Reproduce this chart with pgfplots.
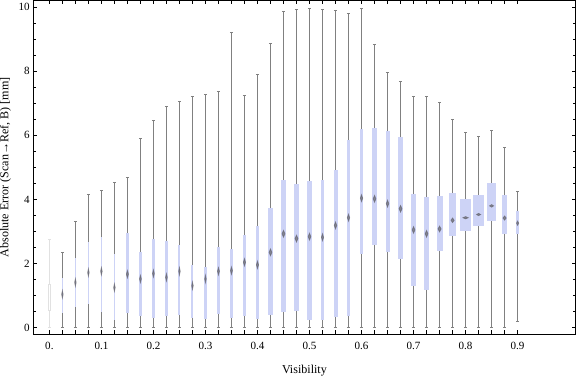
\documentclass[border=0pt]{standalone}
\usepackage{fontspec}
\setmainfont{Liberation Serif}
\usepackage{pgfplots}
\pgfplotsset{compat=1.18}
\usepgfplotslibrary{statistics}
\definecolor{boxfill}{RGB}{205,211,246}
\definecolor{whisk}{RGB}{128,128,128}
\definecolor{medc}{RGB}{105,105,115}
\definecolor{faint}{RGB}{225,225,225}
\pgfkeys{/pgfplots/boxplot/medh/.initial=0.1, /pgfplots/boxplot/medw/.initial=0.35}
% pos, lower whisker, lower quartile, median, upper quartile, upper whisker, box width, median half-height (data), median half-width (fraction of box)
\newcommand{\bw}[9]{\addplot[draw=whisk, line width=0.8pt, boxplot/medh=#8, boxplot/medw=#9,
  boxplot prepared={draw position=#1, lower whisker=#2, lower quartile=#3, median=#4,
  upper quartile=#5, upper whisker=#6, box extend=#7, whisker extend=0.006}] coordinates {};}
\begin{document}
\begin{tikzpicture}
\begin{axis}[
  scale only axis, width=539.7pt, height=332.4pt,
  xmin=-0.031, xmax=1.0115, ymin=-0.21, ymax=10.21,
  boxplot/draw direction=y,
  xtick={0,0.025,0.05,0.075,0.1,0.125,0.15,0.175,0.2,0.225,0.25,0.275,0.3,0.325,0.35,0.375,0.4,0.425,0.45,0.475,0.5,0.525,0.55,0.575,0.6,0.625,0.65,0.675,0.7,0.725,0.75,0.775,0.8,0.825,0.85,0.875,0.9},
  xticklabels={0.,,,,0.1,,,,0.2,,,,0.3,,,,0.4,,,,0.5,,,,0.6,,,,0.7,,,,0.8,,,,0.9},
  ytick={0,2,4,6,8,10}, minor y tick num=3,
  tick align=inside,
  major tick length=4pt, minor tick length=2.7pt,
  tick style={black, line width=0.6pt},
  axis line style={line width=0.8pt},
  every tick label/.append style={font=\fontsize{11}{13}\selectfont},
  /pgf/number format/assume math mode=true,
  xticklabel style={yshift=-4.6pt},
  xlabel={Visibility},
  ylabel={Absolute Error (Scan→Ref, B) [mm]},
  label style={font=\fontsize{12}{14}\selectfont},
  xlabel style={inner sep=0pt, at={(axis description cs:0.5,-0.092)}, anchor=north},
  ylabel style={inner sep=0pt, at={(axis description cs:-0.0617,0.5)}, anchor=north},
  boxplot/every box/.style={draw=none, fill=boxfill},
  boxplot/every whisker/.style={draw=whisk, line width=0.8pt},
  boxplot/draw/median/.code={%
    \pgfmathsetmacro\mtop{\pgfplotsboxplotvalue{median}+\pgfkeysvalueof{/pgfplots/boxplot/medh}}%
    \pgfmathsetmacro\mbot{\pgfplotsboxplotvalue{median}-\pgfkeysvalueof{/pgfplots/boxplot/medh}}%
    \pgfmathsetmacro\mlo{0.5-\pgfkeysvalueof{/pgfplots/boxplot/medw}}%
    \pgfmathsetmacro\mhi{0.5+\pgfkeysvalueof{/pgfplots/boxplot/medw}}%
    \fill[medc, opacity=0.75] (boxplot box cs:\mtop,0.5) -- (boxplot box cs:\pgfplotsboxplotvalue{median},\mhi)
      -- (boxplot box cs:\mbot,0.5) -- (boxplot box cs:\pgfplotsboxplotvalue{median},\mlo) -- cycle;},
]
% faint first box
\addplot[draw=faint, line width=0.8pt, boxplot/medh=0, boxplot/medw=0,
  boxplot/every box/.style={draw=faint, fill=none, line width=0.4pt},
  boxplot/every whisker/.style={draw=faint, line width=0.8pt},
  boxplot prepared={draw position=0, lower whisker=0, lower quartile=0.53, median=0.95,
  upper quartile=1.37, upper whisker=2.74, box extend=0.004, whisker extend=0.006}] coordinates {};
\bw{0.025}{0}{0.47}{1.04}{1.54}{2.35}{0.0033}{0.11}{0.4}
\bw{0.05}{0}{0.66}{1.41}{2.16}{3.32}{0.0033}{0.11}{0.4}
\bw{0.075}{0}{0.75}{1.72}{2.66}{4.17}{0.0033}{0.11}{0.4}
\bw{0.1}{0}{0.50}{1.76}{2.82}{4.29}{0.0035}{0.11}{0.4}
\bw{0.125}{0}{0.25}{1.25}{2.29}{4.52}{0.0035}{0.11}{0.4}
\bw{0.15}{0}{0.45}{1.67}{2.94}{4.70}{0.0055}{0.11}{0.35}
\bw{0.175}{0}{0.36}{1.52}{2.36}{5.92}{0.0048}{0.11}{0.35}
\bw{0.2}{0}{0.29}{1.69}{2.76}{6.46}{0.0048}{0.11}{0.35}
\bw{0.225}{0}{0.36}{1.57}{2.70}{6.90}{0.0045}{0.11}{0.35}
\bw{0.25}{0}{0.39}{1.76}{2.58}{7.05}{0.0040}{0.11}{0.35}
\bw{0.275}{0}{0.29}{1.31}{1.94}{7.21}{0.0040}{0.11}{0.35}
\bw{0.3}{0}{0.26}{1.52}{1.88}{7.29}{0.0040}{0.11}{0.35}
\bw{0.325}{0}{0.42}{1.76}{2.51}{7.36}{0.0052}{0.11}{0.35}
\bw{0.35}{0}{0.29}{1.78}{2.45}{9.22}{0.0052}{0.11}{0.35}
\bw{0.375}{0}{0.36}{2.04}{2.88}{7.26}{0.0058}{0.11}{0.35}
\bw{0.4}{0}{0.27}{1.96}{3.18}{7.89}{0.0058}{0.11}{0.35}
\bw{0.425}{0}{0.39}{2.35}{3.72}{8.86}{0.0087}{0.103}{0.3}
\bw{0.45}{0}{0.48}{2.93}{4.60}{9.87}{0.0091}{0.103}{0.3}
\bw{0.475}{0}{0.52}{2.78}{4.47}{9.92}{0.0091}{0.103}{0.3}
\bw{0.5}{0}{0.23}{2.84}{4.58}{9.96}{0.0083}{0.103}{0.3}
\bw{0.525}{0}{0.25}{2.82}{4.60}{9.92}{0.0058}{0.103}{0.35}
\bw{0.55}{0}{0.34}{3.19}{4.91}{9.90}{0.0077}{0.103}{0.3}
\bw{0.575}{0}{0.38}{3.43}{5.85}{9.80}{0.0071}{0.103}{0.3}
\bw{0.6}{0}{2.31}{4.04}{6.20}{9.96}{0.0071}{0.103}{0.3}
\bw{0.625}{0}{2.58}{4.02}{6.23}{8.83}{0.0083}{0.103}{0.3}
\bw{0.65}{0}{2.36}{3.87}{6.14}{7.95}{0.0077}{0.103}{0.3}
\bw{0.675}{0}{2.13}{3.71}{5.95}{7.67}{0.0110}{0.1}{0.25}
\bw{0.7}{0}{1.30}{3.05}{4.16}{7.21}{0.0102}{0.1}{0.25}
\bw{0.725}{0}{1.17}{2.93}{4.08}{7.23}{0.0102}{0.1}{0.25}
\bw{0.75}{0}{2.39}{3.08}{4.11}{7.04}{0.0116}{0.088}{0.25}
\bw{0.775}{0}{2.86}{3.35}{4.20}{6.51}{0.0135}{0.069}{0.22}
\bw{0.8}{0}{3.02}{3.43}{4.01}{6.10}{0.0212}{0.034}{0.23}
\bw{0.825}{0}{3.18}{3.53}{4.14}{5.98}{0.0212}{0.034}{0.18}
\bw{0.85}{0}{3.33}{3.80}{4.51}{6.16}{0.0174}{0.038}{0.22}
\bw{0.875}{0}{2.92}{3.42}{4.14}{5.61}{0.0097}{0.063}{0.3}
\bw{0.9}{0.19}{2.93}{3.26}{3.64}{4.26}{0.0058}{0.063}{0.35}
\end{axis}
\end{tikzpicture}
\end{document}
